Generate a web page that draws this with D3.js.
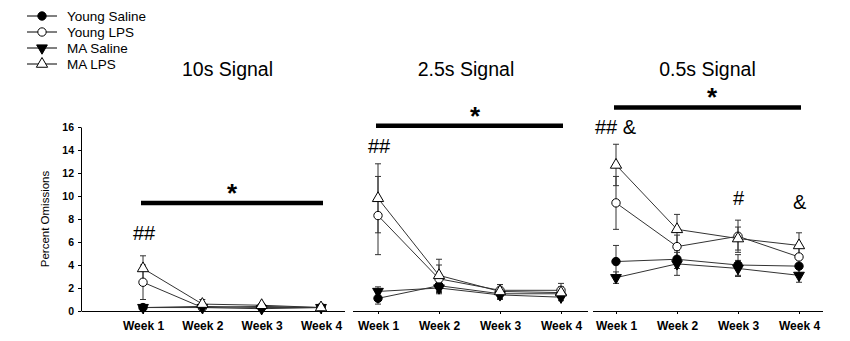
<!DOCTYPE html>
<html lang="en">
<head>
    <meta charset="UTF-8">
    <title>Percent Omissions</title>
    <script src="https://d3js.org/d3.v7.min.js"></script>
    <style>
        body { margin: 0; background: #fff; }
        text { font-family: "Liberation Sans", Arial, sans-serif; fill: #000; }
    </style>
</head>
<body>
<script>
    var width = 850;
    var height = 341;

    var weeks = ["Week 1", "Week 2", "Week 3", "Week 4"];
    var groups = ["Young Saline", "Young LPS", "MA Saline", "MA LPS"];
    var yTicks = [0, 2, 4, 6, 8, 10, 12, 14, 16];

    // 10s signal
    var ys10 = [0.3, 0.4, 0.3, 0.3], ys10_err = [0.1, 0.1, 0.1, 0.1];
    var yl10 = [2.5, 0.3, 0.4, 0.3], yl10_err = [1.5, 0.2, 0.1, 0.1];
    var ms10 = [0.3, 0.3, 0.2, 0.3], ms10_err = [0.1, 0.1, 0.1, 0.1];
    var ml10 = [3.7, 0.6, 0.5, 0.3], ml10_err = [1.1, 0.4, 0.1, 0.1];

    // 2.5s signal
    var ys25 = [1.1, 2.2, 1.5, 1.5], ys25_err = [0.5, 0.6, 0.4, 0.4];
    var yl25 = [8.3, 2.8, 1.8, 1.8], yl25_err = [3.4, 1.2, 0.5, 0.6];
    var ms25 = [1.7, 2.0, 1.4, 1.2], ms25_err = [0.4, 0.5, 0.4, 0.3];
    var ml25 = [9.8, 3.1, 1.7, 1.6], ml25_err = [3.0, 1.4, 0.6, 0.5];

    // 0.5s signal
    var ys05 = [4.3, 4.5, 4.0, 3.9], ys05_err = [1.4, 0.8, 0.9, 0.6];
    var yl05 = [9.4, 5.6, 6.5, 4.7], yl05_err = [2.3, 1.0, 1.4, 1.0];
    var ms05 = [2.9, 4.1, 3.7, 3.1], ms05_err = [0.5, 1.0, 0.7, 0.6];
    var ml05 = [12.7, 7.1, 6.3, 5.7], ml05_err = [1.8, 1.3, 1.0, 1.1];

    var titles = ["10s Signal", "2.5s Signal", "0.5s Signal"];
    var sigLevels = [9.4, 16.1, 17.7];   // height of the "*" bar, in axis units
    var notes = [
        [{week: "Week 1", y: 6.2, text: "##"}],
        [{week: "Week 1", y: 13.7, text: "##"}],
        [{week: "Week 1", y: 15.4, text: "## &"}, {week: "Week 3", y: 9.2, text: "#"}, {week: "Week 4", y: 8.9, text: "&"}]
    ];
    var noteDx = [[-10], [-10], [-21, -5, -6]];

    var panels = [
        {x0: 82, x1: 345, first: 143, last: 321, titleDx: -4.5, starDx: 0,
            series: [[ys10, ys10_err], [yl10, yl10_err], [ms10, ms10_err], [ml10, ml10_err]]},
        {x0: 353, x1: 588, first: 378, last: 561, titleDx: -3.5, starDx: 5.5,
            series: [[ys25, ys25_err], [yl25, yl25_err], [ms25, ms25_err], [ml25, ml25_err]]},
        {x0: 593, x1: 823, first: 616, last: 799, titleDx: 0, starDx: 4.5,
            series: [[ys05, ys05_err], [yl05, yl05_err], [ms05, ms05_err], [ml05, ml05_err]]}
    ];

    var svg = d3.select("body").append("svg")
        .attr("width", width)
        .attr("height", height)
        .attr("viewBox", [0, 0, width, height]);

    var y = d3.scaleLinear().domain([0, 16]).range([311, 127]);

    // marker shapes
    var symbols = [
        {type: d3.symbolCircle, size: 55, fill: "#000"},
        {type: d3.symbolCircle, size: 55, fill: "#fff"},
        {type: d3.symbolTriangle, size: 50, fill: "#000", rotate: 180},
        {type: d3.symbolTriangle, size: 55, fill: "#fff", rotate: 0}
    ];

    function drawMarker(g, i, cx, cy) {
        var s = symbols[i];
        g.append("path")
            .attr("d", d3.symbol().type(s.type).size(s.size)())
            .attr("transform", "translate(" + cx + "," + cy + ")" + (s.rotate ? " rotate(" + s.rotate + ")" : ""))
            .attr("fill", s.fill)
            .attr("stroke", "#000")
            .attr("stroke-width", 1);
    }

    // y axis (only on the first panel)
    var yAxis = svg.append("g")
        .attr("transform", "translate(81,0)")
        .call(d3.axisLeft(y).tickValues(yTicks).tickSize(3).tickSizeOuter(0));
    yAxis.select(".domain").attr("stroke", "#000");
    yAxis.selectAll("text")
        .attr("font-size", "10.5px")
        .attr("font-weight", "bold")
        .attr("font-family", "Liberation Sans, Arial, sans-serif")
        .attr("dx", "-1");

    svg.append("text")
        .attr("transform", "translate(49," + y(8) + ") rotate(-90)")
        .attr("text-anchor", "middle")
        .attr("font-size", "11.5px")
        .text("Percent Omissions");

    panels.forEach(function (p, k) {
        var x = d3.scalePoint().domain(weeks).range([p.first, p.last]);
        var g = svg.append("g");
        var mid = (p.first + p.last) / 2;

        // x axis line with ticks
        g.append("line")
            .attr("x1", p.x0).attr("x2", p.x1)
            .attr("y1", 311.5).attr("y2", 311.5)
            .attr("stroke", "#000").attr("stroke-width", 1);
        var xAxis = g.append("g")
            .attr("transform", "translate(0,311)")
            .call(d3.axisBottom(x).tickSize(3).tickSizeOuter(0));
        xAxis.select(".domain").remove();
        xAxis.selectAll("text")
            .attr("font-size", "12px")
            .attr("font-weight", "bold")
            .attr("font-family", "Liberation Sans, Arial, sans-serif")
            .attr("dy", "1.1em");

        // title
        g.append("text")
            .attr("x", mid + p.titleDx)
            .attr("y", 75.5)
            .attr("text-anchor", "middle")
            .attr("font-size", "19.5px")
            .text(titles[k]);

        // significance bar and star
        g.append("line")
            .attr("x1", p.first - 2).attr("x2", p.last + 2)
            .attr("y1", y(sigLevels[k])).attr("y2", y(sigLevels[k]))
            .attr("stroke", "#000").attr("stroke-width", 4.5);
        g.append("text")
            .attr("x", mid + p.starDx)
            .attr("y", y(sigLevels[k]) - 1)
            .attr("text-anchor", "middle")
            .attr("font-size", "26px")
            .attr("font-weight", "bold")
            .text("*");

        notes[k].forEach(function (n, j) {
            g.append("text")
                .attr("x", x(n.week) + noteDx[k][j])
                .attr("y", y(n.y))
                .attr("font-size", "20px")
                .text(n.text);
        });

        var line = d3.line()
            .x(function (d, i) { return x(weeks[i]); })
            .y(function (d) { return y(d); });

        // connecting lines
        p.series.forEach(function (s) {
            g.append("path")
                .attr("d", line(s[0]))
                .attr("fill", "none")
                .attr("stroke", "#333")
                .attr("stroke-width", 1);
        });

        // error bars
        p.series.forEach(function (s) {
            s[0].forEach(function (v, i) {
                var cx = x(weeks[i]);
                var lo = y(v - s[1][i]), hi = y(v + s[1][i]);
                g.append("line").attr("x1", cx).attr("x2", cx).attr("y1", lo).attr("y2", hi)
                    .attr("stroke", "#333").attr("stroke-width", 1);
                [lo, hi].forEach(function (yy) {
                    g.append("line").attr("x1", cx - 3).attr("x2", cx + 3).attr("y1", yy).attr("y2", yy)
                        .attr("stroke", "#333").attr("stroke-width", 1);
                });
            });
        });

        // markers
        p.series.forEach(function (s, si) {
            s[0].forEach(function (v, i) {
                drawMarker(g, si, x(weeks[i]), y(v));
            });
        });
    });

    // legend
    var legend = svg.append("g");
    groups.forEach(function (name, i) {
        var ly = 16 + i * 16;
        legend.append("line")
            .attr("x1", 27).attr("x2", 57)
            .attr("y1", ly).attr("y2", ly)
            .attr("stroke", "#000").attr("stroke-width", 1);
        drawMarker(legend, i, 42, ly);
        legend.append("text")
            .attr("x", 67)
            .attr("y", ly)
            .attr("dy", "0.36em")
            .attr("font-size", "13.5px")
            .text(name);
    });
</script>
</body>
</html>
